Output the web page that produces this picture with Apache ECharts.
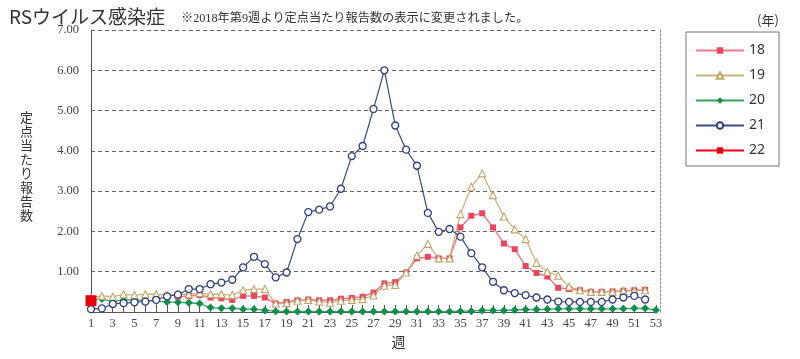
<!DOCTYPE html>
<html><head><meta charset="utf-8">
<script src="https://cdn.jsdelivr.net/npm/echarts@6/dist/echarts.min.js"></script>
<style>html,body{margin:0;padding:0;background:#fff}#c{width:800px;height:359px}</style>
</head><body><div id="c"></div>
<script>
const weeks = Array.from({length:53},(_,i)=>String(i+1));
const yTicks = ['1.00','2.00','3.00','4.00','5.00','6.00','7.00'];
const legendNames = ['18','19','20','21','22'];
const s18 = [null,null,null,null,null,null,null,null,0.38,0.40,0.42,0.36,0.34,0.30,0.40,0.40,0.36,0.21,0.25,0.29,0.31,0.29,0.29,0.33,0.35,0.38,0.48,0.71,0.74,0.98,1.33,1.37,1.33,1.33,2.10,2.39,2.45,2.10,1.70,1.56,1.14,0.97,0.88,0.60,0.57,0.54,0.50,0.50,0.51,0.53,0.54,0.55];
const s19 = [0.35,0.40,0.38,0.44,0.42,0.44,0.44,0.42,0.44,0.44,0.47,0.44,0.44,0.42,0.54,0.57,0.57,0.21,0.22,0.28,0.30,0.26,0.23,0.28,0.30,0.32,0.41,0.65,0.67,0.98,1.40,1.69,1.33,1.33,2.43,3.11,3.44,2.90,2.37,2.05,1.81,1.22,1.00,0.90,0.63,0.54,0.50,0.50,0.50,0.52,0.53,0.54];
const s20 = [0.30,0.32,0.26,0.30,0.30,0.28,0.27,0.25,0.24,0.23,0.21,0.11,0.09,0.09,0.07,0.07,0.04,0.02,0.01,0.01,0.01,0.01,0.01,0.01,0.01,0.01,0.01,0.01,0.01,0.01,0.01,0.01,0.01,0.01,0.02,0.02,0.04,0.04,0.04,0.05,0.06,0.06,0.07,0.08,0.08,0.08,0.08,0.08,0.08,0.08,0.09,0.09,0.05];
const s21 = [0.07,0.09,0.20,0.22,0.24,0.26,0.30,0.39,0.43,0.57,0.57,0.69,0.73,0.80,1.11,1.37,1.19,0.86,0.98,1.81,2.48,2.54,2.62,3.06,3.87,4.12,5.04,6.00,4.63,4.03,3.63,2.46,1.99,2.06,1.87,1.46,1.11,0.75,0.54,0.47,0.42,0.36,0.31,0.26,0.25,0.25,0.25,0.25,0.31,0.36,0.40,0.31];
const s22 = [0.28];
const yName = '定点当たり報告数';

const serif = "'Liberation Serif','Noto Sans CJK JP',serif";
const chart = echarts.init(document.getElementById('c'), null, {renderer:'canvas'});
chart.setOption({
  animation:false,
  title:[
    {text:'RSウイルス感染症', left:4, top:2, textStyle:{fontFamily:"'Noto Sans CJK JP',sans-serif", fontSize:19, fontWeight:'normal', color:'#333'}},
    {text:'※2018年第9週より定点当たり報告数の表示に変更されました。', left:176, top:8, textStyle:{fontFamily:serif, fontSize:12.2, fontWeight:'normal', color:'#333'}},
    {text:'(年)', left:752, top:9, textStyle:{fontFamily:"'Noto Sans CJK JP',sans-serif", fontSize:13, fontWeight:'normal', color:'#333'}},
    {text:yName.split('').join('\n'), left:20, top:110, padding:0,
      textStyle:{fontFamily:"'Noto Sans CJK JP',sans-serif", fontSize:13, lineHeight:14, fontWeight:'normal', color:'#333'}}
  ],
  legend:{
    orient:'vertical', left:686, top:32, data:legendNames,
    itemWidth:48, itemHeight:8, itemGap:8,
    padding:[10,14,7,9], borderColor:'#777', borderWidth:1,
    textStyle:{fontFamily:"'Noto Sans',sans-serif", fontSize:14, color:'#333', lineHeight:17}
  },
  grid:{left:91, right:144, top:30, bottom:47},
  xAxis:{
    type:'category', data:weeks, boundaryGap:false,
    name:'週', nameLocation:'middle', nameGap:22,
    nameTextStyle:{fontFamily:"'Noto Sans CJK JP',sans-serif", fontSize:14, color:'#333', padding:[0,0,0,50]},
    axisLine:{lineStyle:{color:'#555', width:1}},
    axisTick:{inside:true, length:7, interval:0, alignWithLabel:true, lineStyle:{color:'#555'}},
    axisLabel:{interval:1, fontFamily:serif, fontSize:12.5, color:'#444', margin:5},
    splitLine:{show:false}
  },
  yAxis:[{
    type:'value', min:0, max:7, interval:1,
    axisLine:{show:true, lineStyle:{color:'#555', width:1}},
    axisTick:{show:false},
    axisLabel:{fontFamily:serif, fontSize:12.5, color:'#444', margin:12, padding:[9,0,0,0],
      formatter:v=> v===0 ? '' : yTicks[v-1]},
    splitLine:{show:true, lineStyle:{color:'#666', type:[4,3], width:1}}
  },{
    type:'value', min:0, max:7, interval:1, position:'right', offset:4,
    axisLine:{show:true, lineStyle:{color:'#888', type:[2,2], width:1}},
    axisTick:{show:false}, axisLabel:{show:false}, splitLine:{show:false}
  }],
  series:[
    {name:'18', type:'line', data:s18, showAllSymbol:true, symbol:'rect', symbolSize:6, z:3,
      lineStyle:{color:'#ef7b8a', width:1.5}, itemStyle:{color:'#e8475f'}},
    {name:'19', type:'line', data:s19, showAllSymbol:true, symbol:'triangle', symbolSize:7, z:3,
      lineStyle:{color:'#c9b47c', width:1.3}, itemStyle:{color:'#fff', borderColor:'#c0a56a', borderWidth:1.1}},
    {name:'20', type:'line', data:s20, showAllSymbol:true, symbol:'diamond', symbolSize:8, z:2,
      lineStyle:{color:'#37a063', width:1.3}, itemStyle:{color:'#0f8f48'}},
    {name:'21', type:'line', data:s21, showAllSymbol:true, symbol:'circle', symbolSize:7, z:4,
      lineStyle:{color:'#3c4a84', width:1.2}, itemStyle:{color:'#fff', borderColor:'#2f3f80', borderWidth:1.3}},
    {name:'22', type:'line', data:s22, showAllSymbol:true, symbol:'rect', symbolSize:11, z:5,
      lineStyle:{color:'#e50012', width:3}, itemStyle:{color:'#e50012'}}
  ]
});
</script></body></html>
